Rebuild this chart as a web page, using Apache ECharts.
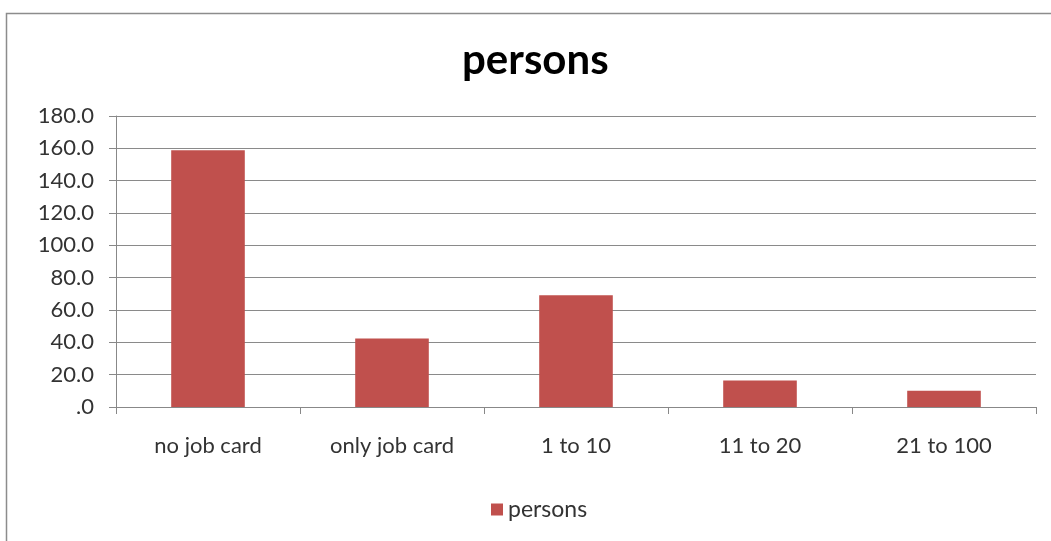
<!DOCTYPE html>
<html><head><meta charset="utf-8">
<script src="https://cdn.jsdelivr.net/npm/echarts@6/dist/echarts.min.js"></script>
<style>html,body{margin:0;padding:0;background:#fff}#c{width:1051px;height:541px}</style>
</head><body><div id="c"></div>
<script>
const categories = ["no job card", "only job card", "1 to 10", "11 to 20", "21 to 100"];
const personsValues = [158.8, 42.3, 69.1, 16.4, 10.1];
const seriesName = "persons";
const titleText = "persons";

const chart = echarts.init(document.getElementById('c'), null, {renderer: 'canvas'});
chart.setOption({
  animation: false,
  backgroundColor: '#fff',
  graphic: [{
    type: 'rect', left: 4, top: 11, z: -1,
    shape: {width: 1060, height: 560},
    style: {fill: 'none', stroke: '#8c8c8c', lineWidth: 1.5}
  }],
  title: {
    text: titleText, left: 457, top: 34,
    textStyle: {fontFamily: 'Lato', fontWeight: 'bold', fontSize: 42, color: '#000'}
  },
  legend: {
    data: [seriesName], bottom: 15, left: 486,
    icon: 'rect', itemWidth: 12, itemHeight: 12, itemGap: 9,
    textStyle: {fontFamily: 'Lato', fontSize: 23, color: '#333'}
  },
  grid: {left: 116, right: 15, top: 116, bottom: 134, containLabel: false},
  xAxis: {
    type: 'category', data: categories,
    axisLine: {lineStyle: {color: '#888', width: 1}},
    axisTick: {show: true, alignWithLabel: false, length: 7, lineStyle: {color: '#888'}},
    axisLabel: {fontFamily: 'Lato', fontSize: 22, color: '#333', margin: 28}
  },
  yAxis: {
    type: 'value', min: 0, max: 180, interval: 20,
    axisLine: {show: true, lineStyle: {color: '#888', width: 1}},
    axisTick: {show: true, length: 7, lineStyle: {color: '#888'}},
    splitLine: {lineStyle: {color: '#8a8a8a', width: 1}},
    axisLabel: {
      fontFamily: 'Lato', fontSize: 22, color: '#333', margin: 22,
      formatter: v => v === 0 ? '.0' : v.toFixed(1)
    }
  },
  series: [{
    name: seriesName, type: 'bar', data: personsValues,
    barWidth: '40%',
    itemStyle: {color: '#C0504D'}
  }]
});
</script></body></html>
